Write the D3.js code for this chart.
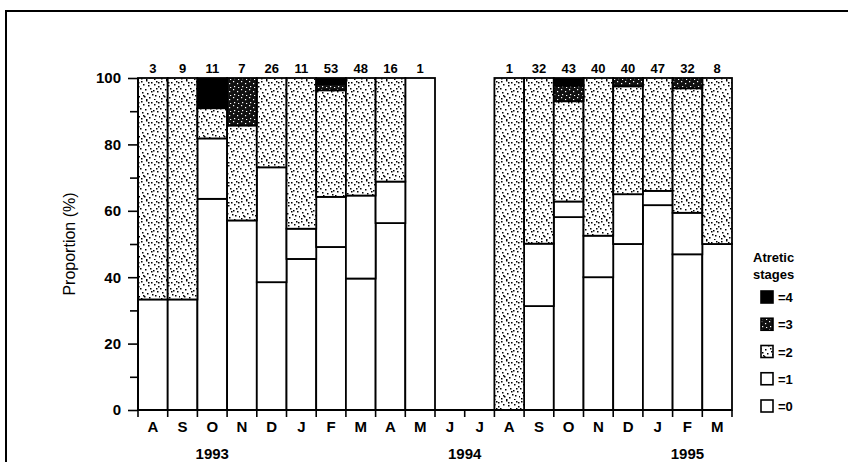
<!DOCTYPE html>
<html><head><meta charset="utf-8">
<script src="https://cdn.jsdelivr.net/npm/d3@7"></script>
<style>
html,body{margin:0;padding:0;background:#fff;}
svg{display:block;font-family:"Liberation Sans",Arial,Helvetica,sans-serif;}
</style></head>
<body><svg id="c" width="848" height="462"></svg>
<script>
// ---- data ----
const months = ["A","S","O","N","D","J","F","M","A","M","J","J","A","S","O","N","D","J","F","M"];
const counts = [3,9,11,7,26,11,53,48,16,1,null,null,1,32,43,40,40,47,32,8];
const stage0 = [33.3,33.3,63.6,57.1,38.5,45.5,49.1,39.6,56.3,100,null,null,0,31.3,58.1,40,50,61.7,46.9,50];
const stage1 = [0,0,18.2,0,34.6,9.1,15.1,25,12.5,0,null,null,0,18.8,4.7,12.5,15,4.3,12.5,0];
const stage2 = [66.7,66.7,9.1,28.6,26.9,45.5,32.1,35.4,31.3,0,null,null,100,50,30.2,47.5,32.5,34,37.5,50];
const stage3 = [0,0,0,14.3,0,0,1.9,0,0,0,null,null,0,0,4.7,0,2.5,0,3.1,0];
const stage4 = [0,0,9.1,0,0,0,1.9,0,0,0,null,null,0,0,2.3,0,0,0,0,0];
const years = ["1993","1994","1995"];
const yearSpans = [[0,4],[5,16],[17,19]]; // month slots each year covers
const yTicks = [0,20,40,60,80,100];
const yMinor = [10,30,50,70,90];
const legendLabels = ["=4","=3","=2","=1","=0"];

// ---- setup ----
const svg = d3.select("#c");
const defs = svg.append("defs");

// stipple patterns (fixed hand-placed dots)
const p2 = defs.append("pattern").attr("id","p2").attr("patternUnits","userSpaceOnUse")
  .attr("width",20).attr("height",20);
p2.append("rect").attr("width",20).attr("height",20).attr("fill","#fff");
[[1,1],[6,0],[11,2],[16,1],[3,4],[8,5],[14,4],[18,6],[0,8],[5,9],[10,8],[13,10],[17,11],
 [2,12],[7,13],[12,14],[15,15],[19,16],[4,16],[9,17],[1,18],[14,19],[6,19],[11,11],[18,2],[8,2],[3,15],[16,8]]
  .forEach(d=>p2.append("rect").attr("x",d[0]).attr("y",d[1]).attr("width",1.5).attr("height",1.5).attr("fill","#000"));
const p3 = defs.append("pattern").attr("id","p3").attr("patternUnits","userSpaceOnUse")
  .attr("width",8).attr("height",8);
p3.append("rect").attr("width",8).attr("height",8).attr("fill","#111");
[[1,1],[5,3],[2,6],[6,7]]
  .forEach(d=>p3.append("rect").attr("x",d[0]).attr("y",d[1]).attr("width",1.2).attr("height",1.2).attr("fill","#fff"));

const fills = ["#fff","#fff","url(#p2)","url(#p3)","#000"];

// frame
svg.append("rect").attr("x",6).attr("y",11).attr("width",900).attr("height",500)
  .attr("fill","none").attr("stroke","#000").attr("stroke-width",2);

const x = d3.scaleBand().domain(d3.range(months.length)).range([138,732]).padding(0);
const y = d3.scaleLinear().domain([0,100]).range([410,78]);

const rows = months.map((m,i)=>({i, s0:stage0[i]||0, s1:stage1[i]||0, s2:stage2[i]||0, s3:stage3[i]||0, s4:stage4[i]||0, n:counts[i]}));
const keys = ["s0","s1","s2","s3","s4"];
const stack = d3.stack().keys(keys)(rows);

const g = svg.append("g");
stack.forEach((layer,k)=>{
  g.selectAll(null).data(layer.filter(d=>d.data.n!=null && d[1]-d[0]>0)).enter().append("rect")
    .attr("x",d=>x(d.data.i)).attr("width",x.bandwidth())
    .attr("y",d=>y(Math.min(100,d[1]))).attr("height",d=>y(d[0])-y(Math.min(100,d[1])))
    .attr("fill",fills[k]).attr("stroke","#000").attr("stroke-width",1.8);
});

// counts
svg.append("g").selectAll("text").data(rows.filter(d=>d.n!=null)).enter().append("text")
  .attr("x",d=>x(d.i)+x.bandwidth()/2).attr("y",73).attr("text-anchor","middle")
  .attr("font-size",13).attr("font-weight","bold").text(d=>d.n);

// y axis
const yAxis = svg.append("g").attr("transform","translate(138,0)")
  .call(d3.axisLeft(y).tickValues(yTicks).tickSize(10).tickPadding(7));
svg.append("g").attr("transform","translate(138,0)")
  .call(d3.axisLeft(y).tickValues(yMinor).tickSize(8).tickFormat(""))
  .call(g=>g.select(".domain").remove());
svg.selectAll(".tick line").attr("stroke","#000").attr("stroke-width",1.6);
yAxis.select(".domain").attr("stroke","#000").attr("stroke-width",2).attr("d","M0,410V78");
yAxis.selectAll("text").attr("font-size",15).attr("font-weight","bold").attr("fill","#000")
  .attr("font-family","Liberation Sans, Arial, sans-serif");

svg.append("text").attr("transform","translate(75,244) rotate(-90)").attr("text-anchor","middle")
  .attr("font-size",16).text("Proportion (%)");

// x axis
const xa = svg.append("g");
xa.append("line").attr("x1",138).attr("x2",732).attr("y1",410).attr("y2",410).attr("stroke","#000").attr("stroke-width",2);
const edges = d3.range(months.length+1).map(d=>d<months.length?x(d):x(d-1)+x.bandwidth());
xa.selectAll("line.t").data(edges).enter().append("line")
  .attr("x1",d=>d).attr("x2",d=>d)
  .attr("y1",410).attr("y2",417).attr("stroke","#000").attr("stroke-width",1.6);
xa.selectAll("text.m").data(months).enter().append("text")
  .attr("x",(d,i)=>x(i)+x.bandwidth()/2).attr("y",432).attr("text-anchor","middle")
  .attr("font-size",15).attr("font-weight","bold").text(d=>d);
xa.selectAll("text.y").data(years).enter().append("text")
  .attr("x",(d,i)=>(x(yearSpans[i][0])+x(yearSpans[i][1])+x.bandwidth())/2)
  .attr("y",459).attr("text-anchor","middle").attr("font-size",15).attr("font-weight","bold").text(d=>d);

// legend
const lg = svg.append("g");
lg.append("text").attr("x",753).attr("y",262).attr("font-size",13).attr("font-weight","bold").text("Atretic");
lg.append("text").attr("x",753).attr("y",279).attr("font-size",13).attr("font-weight","bold").text("stages");
const ly = d3.scalePoint().domain(legendLabels).range([297,406]);
legendLabels.forEach((l,j)=>{
  lg.append("rect").attr("x",761).attr("y",ly(l)-6).attr("width",12).attr("height",12)
    .attr("fill",fills[4-j]).attr("stroke","#000").attr("stroke-width",1.6);
  lg.append("text").attr("x",778).attr("y",ly(l)+5).attr("font-size",13).attr("font-weight","bold").text(l);
});
</script></body></html>
